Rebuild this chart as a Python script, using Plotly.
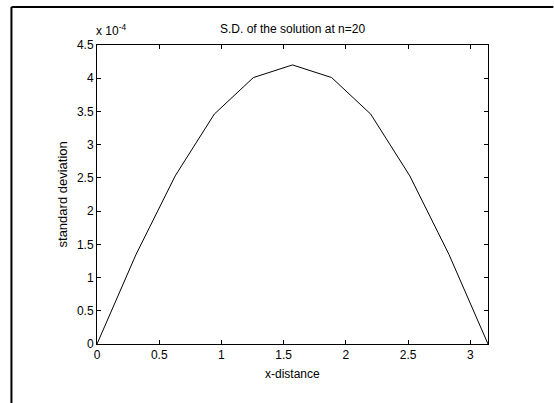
import math
import plotly.graph_objects as go

# Data
x_values = [i * math.pi / 10 for i in range(11)]
sd_values = [0, 1.35e-4, 2.53e-4, 3.46e-4, 4.01e-4, 4.20e-4, 4.01e-4, 3.46e-4, 2.53e-4, 1.35e-4, 0]
x_ticks = [0, 0.5, 1, 1.5, 2, 2.5, 3]
x_tick_labels = ["0", "0.5", "1", "1.5", "2", "2.5", "3"]
y_ticks = [0, 0.5e-4, 1e-4, 1.5e-4, 2e-4, 2.5e-4, 3e-4, 3.5e-4, 4e-4, 4.5e-4]
y_tick_labels = ["0", "0.5", "1", "1.5", "2", "2.5", "3", "3.5", "4", "4.5"]

W, H = 554, 403
L, R, T, B = 97, 487.7, 45, 344

def px(xp):
    return (xp - L) / (R - L)

def py(yp):
    return (B - yp) / (B - T)

fig = go.Figure()
fig.add_trace(go.Scatter(x=x_values, y=sd_values, mode="lines",
                         line=dict(color="black", width=1), showlegend=False,
                         hoverinfo="skip"))

font = dict(family="Liberation Sans, Arial, sans-serif", size=12, color="black")

axis_common = dict(showgrid=False, zeroline=False, showline=True, linecolor="black",
                   linewidth=1, mirror="ticks", ticks="inside", ticklen=4,
                   tickcolor="black", tickwidth=1, tickfont=font)

frame = dict(color="black", width=2)

fig.update_layout(
    width=W, height=H,
    margin=dict(l=L, r=W - R, t=T, b=H - B),
    paper_bgcolor="white", plot_bgcolor="white",
    font=font,
    xaxis=dict(range=[0, math.pi], tickvals=x_ticks, ticktext=x_tick_labels, **axis_common),
    yaxis=dict(range=[0, 4.5e-4], tickvals=y_ticks, ticktext=y_tick_labels, **axis_common),
    shapes=[
        dict(type="line", xref="paper", yref="paper",
             x0=px(11.5), x1=px(553), y0=py(7), y1=py(7), line=frame),
        dict(type="line", xref="paper", yref="paper",
             x0=px(11.5), x1=px(11.5), y0=py(7), y1=py(403), line=frame),
    ],
    annotations=[
        dict(text="S.D. of the solution at n=20", xref="paper", yref="paper",
             x=px(292), y=py(29), xanchor="center", yanchor="middle",
             showarrow=False, font=font),
        dict(text="x 10<sup>-4</sup>", xref="paper", yref="paper",
             x=px(94), y=py(40), xanchor="left", yanchor="bottom",
             showarrow=False, font=font),
        dict(text="x-distance", xref="paper", yref="paper",
             x=px(292), y=py(374), xanchor="center", yanchor="middle",
             showarrow=False, font=font),
        dict(text="standard deviation", xref="paper", yref="paper",
             x=px(63), y=py(194.5), xanchor="center", yanchor="middle",
             textangle=-90, showarrow=False, font=dict(font, size=13)),
    ],
)

fig.write_html("out.html", config={"displayModeBar": False},
               post_script="document.body.style.margin='0';document.body.style.overflow='hidden';document.documentElement.style.overflow='hidden';")
